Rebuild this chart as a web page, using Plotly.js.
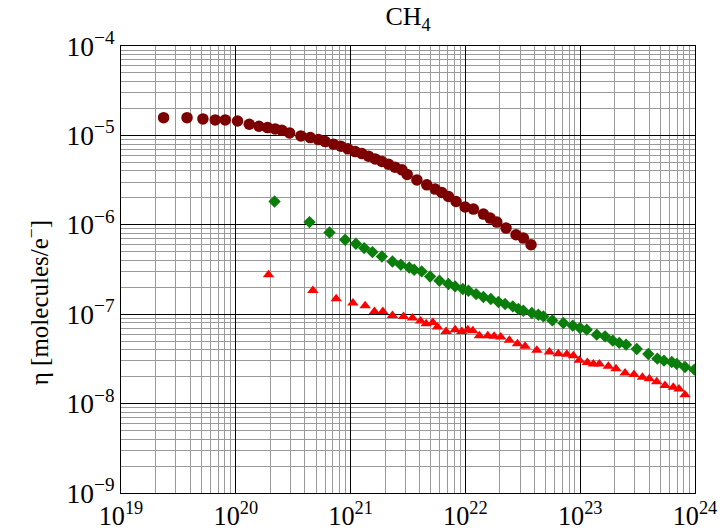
<!DOCTYPE html>
<html>
<head>
<meta charset="utf-8">
<script src="https://cdn.plot.ly/plotly-3.0.1.min.js"></script>
<style>
  html, body { margin: 0; padding: 0; background: #fff; }
  #chart { width: 725px; height: 532px; }
</style>
</head>
<body>
<div id="chart"></div>
<script>
// Fluence (x) and yield eta (y) for the three CH4 data sets
const circleX = [2.35e19, 3.76e19, 5.17e19, 6.62e19, 8.09e19, 1.035e20, 1.31e20, 1.59e20, 1.89e20, 2.20e20,
  2.52e20, 2.94e20, 3.69e20, 4.45e20, 5.25e20, 6.01e20, 7.10e20, 8.23e20, 9.47e20, 1.096e21,
  1.254e21, 1.431e21, 1.637e21, 1.873e21, 2.137e21, 2.44e21, 2.80e21, 3.11e21, 3.78e21, 4.61e21,
  5.45e21, 6.23e21, 7.12e21, 8.30e21, 9.94e21, 1.174e22, 1.435e22, 1.642e22, 1.877e22, 2.26e22,
  2.76e22, 3.20e22, 3.73e22];
const circleY = [1.58e-5, 1.58e-5, 1.53e-5, 1.49e-5, 1.49e-5, 1.45e-5, 1.334e-5, 1.267e-5, 1.222e-5, 1.182e-5,
  1.143e-5, 1.066e-5, 9.87e-6, 9.45e-6, 8.98e-6, 8.52e-6, 7.97e-6, 7.57e-6, 7.07e-6, 6.59e-6,
  6.26e-6, 5.86e-6, 5.46e-6, 5.10e-6, 4.77e-6, 4.41e-6, 4.12e-6, 3.66e-6, 3.18e-6, 2.80e-6,
  2.51e-6, 2.30e-6, 2.07e-6, 1.82e-6, 1.58e-6, 1.50e-6, 1.317e-6, 1.188e-6, 1.072e-6, 9.19e-7,
  7.73e-7, 7.10e-7, 5.98e-7];

const diamondX = [2.175e20, 4.39e20, 6.55e20, 8.97e20, 1.112e21, 1.313e21, 1.55e21, 1.873e21, 2.315e21, 2.74e21,
  3.24e21, 3.58e21, 4.16e21, 4.93e21, 5.94e21, 7.12e21, 8.14e21, 9.50e21, 1.063e22, 1.24e22,
  1.435e22, 1.665e22, 1.94e22, 2.218e22, 2.587e22, 2.895e22, 3.20e22, 3.79e22, 4.32e22, 4.78e22,
  5.72e22, 7.13e22, 8.61e22, 9.97e22, 1.14e23, 1.394e23, 1.646e23, 1.921e23, 2.19e23, 2.51e23,
  3.11e23, 3.92e23, 4.70e23, 5.37e23, 6.27e23, 6.93e23, 8.18e23, 9.86e23];
const diamondY = [1.82e-6, 1.072e-6, 8.20e-7, 6.80e-7, 6.13e-7, 5.49e-7, 4.95e-7, 4.42e-7, 3.89e-7, 3.57e-7,
  3.33e-7, 3.14e-7, 3.01e-7, 2.64e-7, 2.37e-7, 2.175e-7, 2.045e-7, 1.913e-7, 1.83e-7, 1.68e-7,
  1.557e-7, 1.479e-7, 1.369e-7, 1.30e-7, 1.222e-7, 1.143e-7, 1.094e-7, 1.031e-7, 9.87e-8, 9.45e-8,
  8.52e-8, 7.97e-8, 7.44e-8, 7.01e-8, 6.71e-8, 5.90e-8, 5.65e-8, 5.06e-8, 4.77e-8, 4.56e-8,
  4.08e-8, 3.59e-8, 3.18e-8, 3.02e-8, 2.92e-8, 2.78e-8, 2.57e-8, 2.40e-8];

const triangleX = [1.928e20, 4.69e20, 7.49e20, 1.047e21, 1.339e21, 1.614e21, 1.91e21, 2.315e21, 2.89e21, 3.46e21,
  4.07e21, 4.55e21, 5.20e21, 5.71e21, 6.79e21, 8.14e21, 9.31e21, 1.05e22, 1.16e22, 1.324e22,
  1.567e22, 1.779e22, 2.034e22, 2.416e22, 2.84e22, 3.31e22, 4.19e22, 5.39e22, 6.45e22, 7.64e22,
  8.72e22, 9.83e22, 1.154e23, 1.302e23, 1.469e23, 1.759e23, 2.05e23, 2.46e23, 2.94e23, 3.48e23,
  4.00e23, 4.64e23, 5.48e23, 6.47e23, 7.26e23, 8.18e23];
const triangleY = [2.76e-7, 1.844e-7, 1.49e-7, 1.334e-7, 1.245e-7, 1.075e-7, 1.075e-7, 9.70e-8, 9.45e-8, 9.07e-8,
  8.41e-8, 7.83e-8, 8.10e-8, 7.19e-8, 6.42e-8, 6.71e-8, 6.42e-8, 6.71e-8, 6.54e-8, 5.75e-8,
  5.75e-8, 5.65e-8, 5.56e-8, 5.10e-8, 4.68e-8, 4.37e-8, 3.94e-8, 3.78e-8, 3.62e-8, 3.56e-8,
  3.44e-8, 3.05e-8, 2.89e-8, 2.78e-8, 2.78e-8, 2.61e-8, 2.46e-8, 2.20e-8, 2.11e-8, 1.97e-8,
  1.90e-8, 1.75e-8, 1.59e-8, 1.52e-8, 1.46e-8, 1.26e-8];

const yTitle = 'η [molecules/e<sup>−</sup>]';
const serif = 'Liberation Serif, Times New Roman, serif';

const traces = [
  { x: circleX, y: circleY, mode: 'markers', type: 'scatter',
    marker: { symbol: 'circle', size: 11.5, color: '#7d0000' } },
  { x: diamondX, y: diamondY, mode: 'markers', type: 'scatter',
    marker: { symbol: 'diamond', size: 9.5, color: '#0a7d0a' } },
  { x: triangleX, y: triangleY, mode: 'markers', type: 'scatter',
    marker: { symbol: 'triangle-up', size: 10, color: '#ff0000' } }
];

const axisCommon = {
  type: 'log',
  dtick: 1,
  exponentformat: 'power',
  showline: true,
  linecolor: '#000',
  linewidth: 1,
  mirror: true,
  showgrid: true,
  gridcolor: '#000',
  gridwidth: 1,
  zeroline: false,
  ticks: '',
  tickfont: { family: serif, size: 22, color: '#000' },
  minor: { dtick: 'D1', showgrid: true, gridcolor: '#9a9a9a', gridwidth: 1 }
};

const layout = {
  width: 725,
  height: 532,
  margin: { l: 121, r: 30, t: 46, b: 39, pad: 0 },
  paper_bgcolor: '#fff',
  plot_bgcolor: '#fff',
  showlegend: false,
  font: { family: serif, color: '#000' },
  title: { text: 'CH<sub>4</sub>', x: 0.5, xref: 'paper', xanchor: 'center', y: 0.97, yanchor: 'middle',
           font: { family: serif, size: 26, color: '#000' } },
  xaxis: Object.assign({}, axisCommon, { range: [19, 24], ticklabelstandoff: 1,
                                         tickfont: { family: serif, size: 21, color: '#000' } }),
  yaxis: Object.assign({}, axisCommon, { range: [-9, -4], ticklabelstandoff: 1 }),
  annotations: [{
    text: yTitle, textangle: -90, showarrow: false,
    xref: 'paper', yref: 'paper', x: -0.146, y: 0.425, xanchor: 'center', yanchor: 'middle',
    font: { family: serif, size: 25, color: '#000' }
  }]
};

Plotly.newPlot('chart', traces, layout, { displayModeBar: false, staticPlot: true });
</script>
</body>
</html>
